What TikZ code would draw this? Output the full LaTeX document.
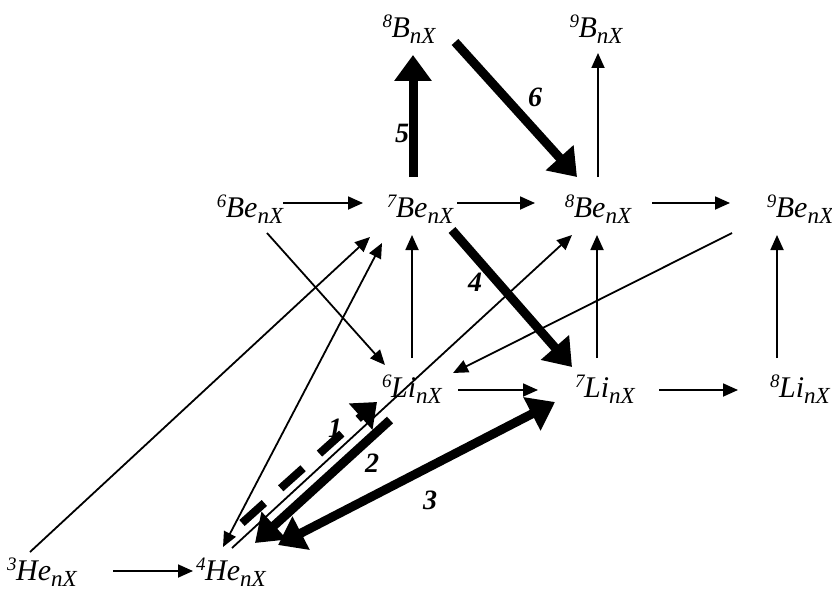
\documentclass[tikz,border=0pt]{standalone}
\usepackage{fontspec}
\setmainfont{Liberation Serif}
\usetikzlibrary{arrows.meta,calc}
\newcommand\nucl[2]{\raisebox{10pt}{\fontsize{19}{19}\selectfont #1}\kern-0.5pt#2\raisebox{-6pt}{\fontsize{23}{23}\selectfont nX}}
\begin{document}
\begin{tikzpicture}[x=1pt,y=-1pt,
 nuc/.style={font=\fontsize{30}{32}\selectfont\itshape, inner sep=0pt, anchor=base},
 num/.style={font=\fontsize{28}{30}\selectfont\bfseries\itshape, inner sep=0pt},
 thinarr/.style={line width=1.8pt, -{Triangle[length=15pt,width=13pt]}},
 thinboth/.style={line width=1.8pt, {Triangle[length=15pt,width=13pt]}-{Triangle[length=15pt,width=13pt]}},
 thickarr/.style={line width=9pt, -{Triangle[length=26pt,width=36pt]}},
 thickboth/.style={line width=9pt, {Triangle[length=26pt,width=36pt]}-{Triangle[length=26pt,width=36pt]}},
 dasharr/.style={line width=8pt, dash pattern=on 30pt off 22pt, -{Triangle[length=22pt,width=34pt]}},
]
\useasboundingbox (0,0) rectangle (832,591);
% nuclei
\node[nuc] (B8)  at (409,38)  {\nucl{8}{B}};
\node[nuc] (B9)  at (596,38)  {\nucl{9}{B}};
\node[nuc] (Be6) at (250,217) {\nucl{6}{Be}};
\node[nuc] (Be7) at (420,217) {\nucl{7}{Be}};
\node[nuc] (Be8) at (598,217) {\nucl{8}{Be}};
\node[nuc] (Be9) at (800,217) {\nucl{9}{Be}};
\node[nuc] (Li6) at (412,397) {\nucl{6}{Li}};
\node[nuc] (Li7) at (605,397) {\nucl{7}{Li}};
\node[nuc] (Li8) at (800,397) {\nucl{8}{Li}};
\node[nuc] (He3) at (42,580)  {\nucl{3}{He}};
\node[nuc] (He4) at (231,580) {\nucl{4}{He}};
% path numbers
\node[num] (n1) at (335,428) {1};
\node[num] (n2) at (372,463) {2};
\node[num] (n3) at (430,500) {3};
\node[num] (n4) at (475,282) {4};
\node[num] (n5) at (402,133) {5};
\node[num] (n6) at (535,97)  {6};
% thin connectors
\draw[thinarr] ($(He3.base)+(71,-9)$) -- ($(He4.base)+(-38,-9)$);
\draw[thinarr] ($(He3.base)+(-12,-28)$) -- ($(Be7.base)+(-50,20)$);
\draw[thinboth] ($(He4.base)+(-8,-33)$) -- ($(Be7.base)+(-38,26)$);
\draw[thinarr] ($(Be6.base)+(17,16)$) -- ($(Li6.base)+(-27,-32)$);
\draw[thinarr] ($(Be6.base)+(33,-14)$) -- ($(Be7.base)+(-57,-14)$);
\draw[thinarr] ($(Be7.base)+(37,-14)$) -- ($(Be8.base)+(-63,-14)$);
\draw[thinarr] ($(Be8.base)+(54,-14)$) -- ($(Be9.base)+(-70,-14)$);
\draw[thinarr] ($(Li6.base)+(0,-39)$) -- ($(Be7.base)+(-8,18)$);
\draw[thinarr] ($(Li7.base)+(-8,-39)$) -- ($(Be8.base)+(-1,18)$);
\draw[thinarr] ($(Li8.base)+(-23,-39)$) -- ($(Be9.base)+(-23,18)$);
\draw[thinarr] ($(Li6.base)+(46,-7)$) -- ($(Li7.base)+(-67,-7)$);
\draw[thinarr] ($(Li7.base)+(54,-7)$) -- ($(Li8.base)+(-62,-7)$);
\draw[thinarr] ($(Be8.base)+(0,-40)$) -- ($(B9.base)+(2,15)$);
\draw[thinarr] ($(Be9.base)+(-68,16)$) -- ($(Li6.base)+(41,-24)$);
\draw[thinarr] ($(He4.base)+(1,-32)$) -- ($(Be8.base)+(-26,18)$);
% thick connectors
\draw[thickarr] ($(Be7.base)+(-7,-40)$) -- ($(B8.base)+(4,17)$);
\draw[thickarr] ($(B8.base)+(46,4)$) -- ($(Be8.base)+(-21,-40)$);
\draw[thickarr] ($(Be7.base)+(32,13)$) -- ($(Li7.base)+(-33,-30)$);
\draw[dasharr] ($(He4.base)+(11,-57)$) -- ($(Li6.base)+(-35,5)$);
\draw[thickarr] ($(Li6.base)+(-22,23)$) -- ($(He4.base)+(24,-37)$);
\draw[thickboth] ($(He4.base)+(47,-35)$) -- ($(Li7.base)+(-50,5)$);
\end{tikzpicture}
\end{document}
